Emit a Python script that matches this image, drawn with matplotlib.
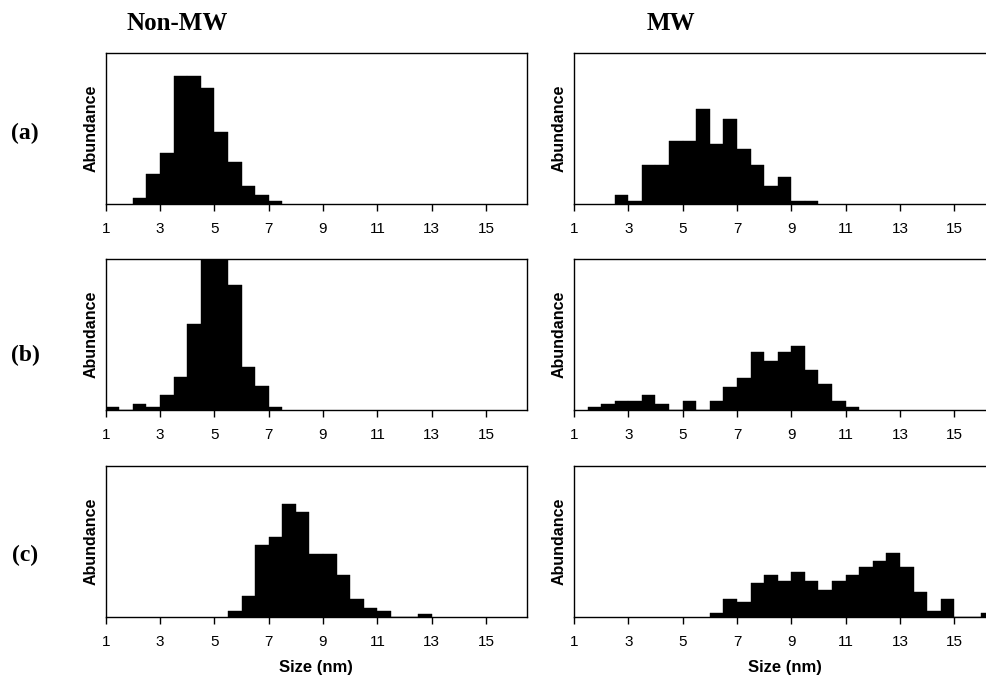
import matplotlib
matplotlib.use('Agg')
import matplotlib.pyplot as plt

# bin width 0.5 nm, heights (% of axis height)
bin_w = 0.5

a_non_start = 2.0
a_non = [4.0, 19.9, 33.8, 85.0, 85.0, 76.8, 47.9, 28.0, 12.1, 6.2, 2.0]

a_mw_start = 2.5
a_mw = [6.2, 2.0, 25.8, 25.8, 41.7, 41.7, 62.9, 39.7, 56.7, 36.9, 25.8, 12.1, 18.1, 2.0, 2.0]

b_non_start = 1.0
b_non = [2.2, 0, 4.0, 2.2, 9.9, 22.1, 57.0, 100, 100, 83.0, 28.3, 16.1, 2.2]

b_mw_start = 1.5
b_mw = [2.2, 4.0, 5.9, 5.9, 9.9, 4.0, 0, 5.9, 0, 5.9, 15.2, 21.1, 38.7, 32.7,
        38.7, 42.6, 26.8, 16.9, 5.9, 2.2]

c_non_start = 5.5
c_non = [3.8, 13.9, 47.5, 52.5, 74.6, 69.5, 41.5, 41.5, 27.6, 11.9, 6.0, 3.8, 0, 0, 1.8]

c_mw_start = 6.0
c_mw = [2.6, 12.0, 10.0, 22.0, 27.8, 23.9, 29.6, 23.9, 18.0, 23.9, 27.8, 32.8,
        36.7, 42.2, 32.8, 16.1, 4.1, 12.0, 0, 0, 2.2]

xticks = [1, 3, 5, 7, 9, 11, 13, 15]
col_titles = ['Non-MW', 'MW']
row_labels = ['(a)', '(b)', '(c)']

panels = [[(a_non_start, a_non), (a_mw_start, a_mw)],
          [(b_non_start, b_non), (b_mw_start, b_mw)],
          [(c_non_start, c_non), (c_mw_start, c_mw)]]

W, H = 986, 683
fig = plt.figure(figsize=(W / 100, H / 100), dpi=100)

lefts = [105.7, 574.0]
bottoms = [204.3, 410.0, 616.7]
ax_w, ax_h = 421.0, 151.0

for r in range(3):
    for c in range(2):
        ax = fig.add_axes([lefts[c] / W, 1 - bottoms[r] / H, ax_w / W, ax_h / H])
        start, vals = panels[r][c]
        edges = [start + i * bin_w for i in range(len(vals))]
        ax.bar(edges, vals, width=bin_w, align='edge', color='black',
               edgecolor='black', linewidth=0.3)
        ax.set_xlim(1, 16.5)
        ax.set_ylim(0, 100)
        ax.set_yticks([])
        ax.set_xticks(xticks)
        ax.set_xticklabels([str(t) for t in xticks], family='Liberation Sans', fontsize=11)
        ax.tick_params(axis='x', direction='out', length=5, width=1, pad=8)
        for s in ax.spines.values():
            s.set_linewidth(1.0)
        ax.set_ylabel('Abundance', family='Liberation Sans', fontsize=11.5,
                      fontweight='bold', labelpad=5)
        if r == 2:
            ax.set_xlabel('Size (nm)', family='Liberation Sans', fontsize=12,
                          fontweight='bold', labelpad=8)

fig.text(177 / W, 1 - 23 / H, col_titles[0], family='Liberation Serif',
         fontweight='bold', fontsize=18, ha='center', va='center')
fig.text(671 / W, 1 - 23 / H, col_titles[1], family='Liberation Serif',
         fontweight='bold', fontsize=18, ha='center', va='center')

row_y = [133, 355, 555]
for lab, y in zip(row_labels, row_y):
    fig.text(25 / W, 1 - y / H, lab, family='Liberation Serif',
             fontweight='bold', fontsize=17, ha='center', va='center')

fig.savefig('out.png', dpi=100)
